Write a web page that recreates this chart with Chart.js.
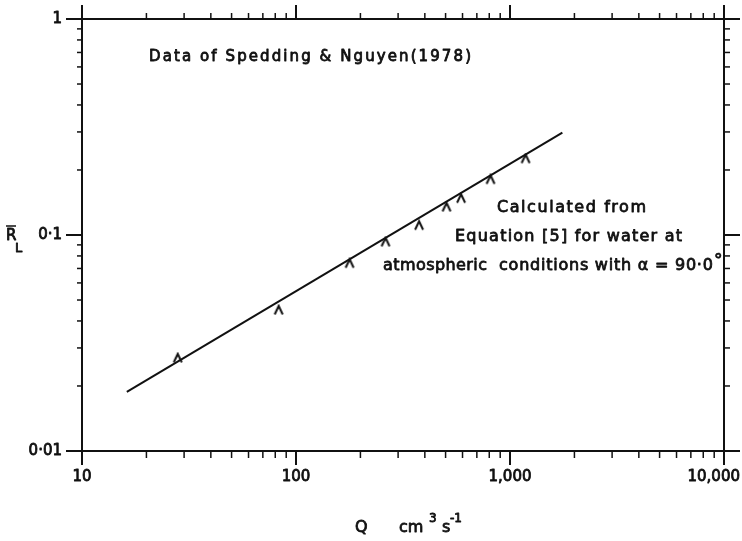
<!DOCTYPE html>
<html>
<head>
<meta charset="utf-8">
<title>Spedding & Nguyen leak ratio</title>
<script src="https://cdn.jsdelivr.net/npm/chart.js@4"></script>
<style>
  html, body { margin: 0; padding: 0; background: #fff; }
  #chart-box { width: 742px; height: 541px; }
</style>
</head>
<body>
<div id="chart-box"><canvas id="leak-chart" width="742" height="541"></canvas></div>
<script>
// Measured points (Spedding & Nguyen 1978)
const flowRates = [28, 83, 178, 262, 376, 505, 591, 811, 1183];
const leakRatios = [0.027, 0.045, 0.074, 0.093, 0.111, 0.135, 0.148, 0.181, 0.226];

// Line calculated from equation [5]
const fitFlow = [16.2, 1757];
const fitRatio = [0.0188, 0.298];

// Axis ticks
const xTicks = [10, 100, 1000, 10000];
const xTickLabels = ['10', '100', '1,000', '10,000'];
const yTicks = [0.01, 0.1, 1];
const yTickLabels = ['0·01', '0·1', '1'];

const FONT = '"DejaVu Sans", "Liberation Sans", sans-serif';
const INK = '#111';

// Caret shaped marker used for the data points
function makeCaret() {
  const c = document.createElement('canvas');
  c.width = 12;
  c.height = 12;
  const g = c.getContext('2d');
  g.strokeStyle = INK;
  g.lineWidth = 2;
  g.lineJoin = 'miter';
  g.beginPath();
  g.moveTo(2, 10.5);
  g.lineTo(6, 2);
  g.lineTo(10, 10.5);
  g.stroke();
  return c;
}

// minor tick values (2..9 times each decade) between two limits
function minorValues(min, max) {
  const out = [];
  for (let d = min; d < max; d *= 10) {
    for (let k = 2; k <= 9; k++) out.push(d * k);
  }
  return out;
}

// text with a thin outline so it looks like the heavier lettering
function ink(ctx, str, x, y) {
  ctx.fillText(str, x, y);
  ctx.strokeText(str, x, y);
}

// draw text spread out to fill a given width
function spreadText(ctx, str, left, right, y, size) {
  ctx.font = `${size}px ${FONT}`;
  ctx.letterSpacing = '0px';
  const w = ctx.measureText(str).width;
  const extra = (right - left - w) / Math.max(1, str.length - 1);
  ctx.textAlign = 'left';
  ctx.textBaseline = 'middle';
  if ('letterSpacing' in ctx && extra > -1.5) {
    ctx.letterSpacing = extra.toFixed(2) + 'px';
    ink(ctx, str, left, y);
    ctx.letterSpacing = '0px';
  } else {
    ctx.save();
    ctx.translate(left, y);
    ctx.scale((right - left) / w, 1);
    ink(ctx, str, 0, 0);
    ctx.restore();
  }
}

function line(ctx, x1, y1, x2, y2) {
  ctx.beginPath();
  ctx.moveTo(x1, y1);
  ctx.lineTo(x2, y2);
  ctx.stroke();
}

// Frame, ticks, labels and notes
const framePlugin = {
  id: 'frame',
  afterDraw(chart) {
    const ctx = chart.ctx;
    const xs = chart.scales.x;
    const ys = chart.scales.y;
    const a = chart.chartArea;
    ctx.save();
    ctx.strokeStyle = INK;
    ctx.fillStyle = INK;
    ctx.lineCap = 'butt';

    // axes
    ctx.lineWidth = 2;
    line(ctx, a.left - 16, a.top, a.right + 14, a.top);
    line(ctx, a.left - 16, a.bottom, a.right + 16, a.bottom);
    line(ctx, a.left, a.top - 13, a.left, a.bottom + 13);
    line(ctx, a.right, a.top - 14, a.right, a.bottom + 14);

    // major ticks
    xTicks.forEach(v => {
      const px = xs.getPixelForValue(v);
      line(ctx, px, a.top, px, a.top - 14);
      line(ctx, px, a.bottom, px, a.bottom + 14);
    });
    yTicks.forEach(v => {
      const py = ys.getPixelForValue(v);
      line(ctx, a.left, py, a.left - 16, py);
      line(ctx, a.right, py, a.right + 16, py);
    });

    // minor ticks
    ctx.lineWidth = 1.5;
    minorValues(10, 10000).forEach(v => {
      const px = xs.getPixelForValue(v);
      line(ctx, px, a.top, px, a.top - 6);
      line(ctx, px, a.bottom, px, a.bottom + 7);
    });
    minorValues(0.01, 1).forEach(v => {
      const py = ys.getPixelForValue(v);
      line(ctx, a.left, py, a.left - 5, py);
      line(ctx, a.right, py, a.right + 6, py);
    });

    ctx.lineWidth = 0.8;
    ctx.lineJoin = 'round';

    // tick labels
    ctx.font = `15px ${FONT}`;
    ctx.textBaseline = 'middle';
    ctx.textAlign = 'right';
    yTicks.forEach((v, i) => {
      ink(ctx, yTickLabels[i], a.left - 20, ys.getPixelForValue(v));
    });
    ctx.textAlign = 'center';
    xTicks.forEach((v, i) => {
      const w = ctx.measureText(xTickLabels[i]).width;
      let cx = xs.getPixelForValue(v);
      cx = Math.min(cx, chart.width - 2 - w / 2);
      ink(ctx, xTickLabels[i], cx, a.bottom + 26);
    });

    // y title: R bar, subscript L
    ctx.textAlign = 'left';
    ctx.textBaseline = 'alphabetic';
    ctx.font = `15px ${FONT}`;
    ink(ctx, 'R', 6, 240);
    ctx.font = `13px ${FONT}`;
    ink(ctx, 'L', 15, 252);
    ctx.lineWidth = 1.5;
    line(ctx, 6, 226, 16, 226);
    ctx.lineWidth = 0.8;

    // x title: Q  cm3 s-1
    ctx.font = `16px ${FONT}`;
    ink(ctx, 'Q', 355, 532);
    ink(ctx, 'cm', 399, 532);
    ctx.font = `12px ${FONT}`;
    ink(ctx, '3', 429, 522);
    ctx.font = `16px ${FONT}`;
    ink(ctx, 's', 442, 532);
    ctx.font = `12px ${FONT}`;
    ink(ctx, '-1', 450, 522);

    // notes
    spreadText(ctx, 'Data of Spedding & Nguyen(1978)', 149, 471, 57, 15);
    spreadText(ctx, 'Calculated from', 497, 646, 208, 16);
    spreadText(ctx, 'Equation [5] for water at', 455, 682, 237, 16);
    spreadText(ctx, 'atmospheric', 383, 487, 266, 16);
    spreadText(ctx, 'conditions with α = 90·0', 499, 713, 266, 16);
    ctx.font = `17px ${FONT}`;
    ctx.textAlign = 'left';
    ink(ctx, '°', 714, 262);

    ctx.restore();
  }
};

const chartCanvas = document.getElementById('leak-chart');
const leakChart = new Chart(chartCanvas.getContext('2d'), {
  type: 'scatter',
  data: {
    datasets: [
      {
        label: 'Equation [5]',
        data: fitFlow.map((q, i) => ({ x: q, y: fitRatio[i] })),
        showLine: true,
        borderColor: INK,
        borderWidth: 2,
        pointRadius: 0,
        fill: false
      },
      {
        label: 'Spedding & Nguyen (1978)',
        data: flowRates.map((q, i) => ({ x: q, y: leakRatios[i] })),
        showLine: false,
        pointStyle: makeCaret(),
        pointRadius: 6
      }
    ]
  },
  options: {
    responsive: false,
    animation: false,
    devicePixelRatio: 1,
    layout: { padding: { left: 82, right: 18, top: 19, bottom: 90 } },
    scales: {
      x: { type: 'logarithmic', min: 10, max: 10000, display: false },
      y: { type: 'logarithmic', min: 0.01, max: 1, display: false }
    },
    plugins: {
      legend: { display: false },
      tooltip: { enabled: false }
    }
  },
  plugins: [framePlugin]
});
</script>
</body>
</html>
